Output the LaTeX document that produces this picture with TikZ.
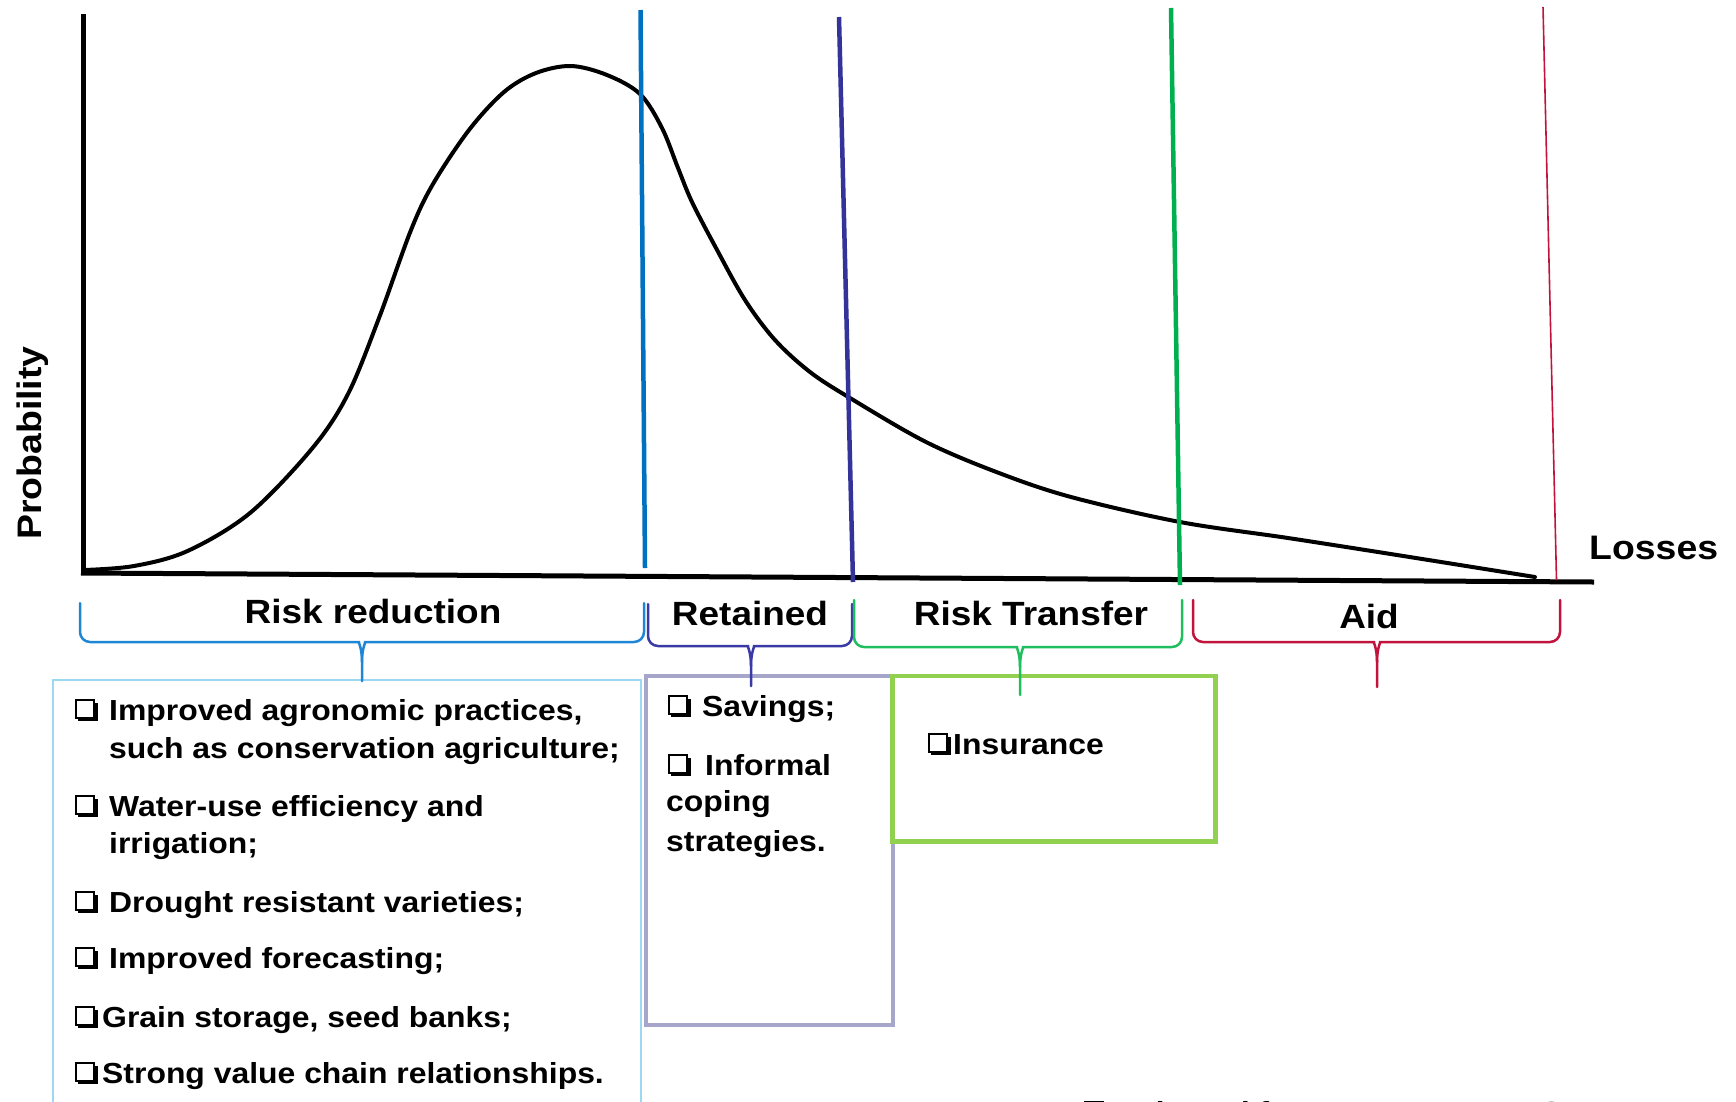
\documentclass[tikz,border=0pt]{standalone}
\usepackage{fontspec}
\setmainfont{Liberation Sans}[FakeStretch=1.1]
\definecolor{vblue}{HTML}{0070C0}
\definecolor{vpurple}{HTML}{333399}
\definecolor{vgreen}{HTML}{00B050}
\definecolor{vred}{HTML}{C0143C}
\definecolor{bblue}{HTML}{1F86D6}
\definecolor{bpurple}{HTML}{3A3AA6}
\definecolor{bgreen}{HTML}{1FBF5F}
\definecolor{boxone}{HTML}{9DD8F2}
\definecolor{boxtwo}{HTML}{A6A6CA}
\definecolor{boxthree}{HTML}{92D050}
\newcommand\mybrace[7]{%
 \draw[brc,#7,rounded corners=10] (#1,#4) -- (#1,#5) -- (#3-13,#5) [sharp corners] .. controls (#3-4,#5) and (#3,#5+5) .. (#3,#5+20) -- (#3,#6);
 \draw[brc,#7,rounded corners=10] (#2,#4) -- (#2,#5) -- (#3+13,#5) [sharp corners] .. controls (#3+4,#5) and (#3,#5+5) .. (#3,#5+20);
}
\begin{document}
\begin{tikzpicture}[x=1pt,y=-1pt,
  brc/.style={line width=2.5, line cap=round},
  body/.style={anchor=base west, inner sep=0, font=\fontsize{29}{35}\selectfont\bfseries},
  head/.style={anchor=base, inner sep=0, font=\fontsize{33.6}{40}\selectfont\bfseries},
  bul/.pic={
    \fill[black] (3,-17) rectangle (23,1);
    \filldraw[fill=white, draw=black, line width=2] (1,-20) rectangle (19,-2);
  }]
\useasboundingbox (0,0) rectangle (1736,1101);
\clip (0,0) rectangle (1736,1101);

% axes
\draw[line width=5] (83,14) -- (83,575);
\draw[line width=5] (81,573) -- (1594,582);

% curve
\draw[line width=4, line join=round, line cap=round] plot[smooth, tension=0.55] coordinates {
 (84,570) (134,566) (187.5,551) (250,513) (312.5,448) (348,394) (379,318) (411,230)
 (433,184) (469,130) (504,92) (536,73) (571,66) (607,75) (640,94) (662,128) (678,168)
 (692,202) (716,248) (745,300) (775,340) (810,372) (850,398) (926,442) (999,473)
 (1071,497) (1180,522) (1288,538) (1397,555) (1535,577)};

% vertical thresholds
\draw[line width=4.5, vblue] (640.5,10) -- (645,568);
\draw[line width=4.5, vpurple] (839,17) -- (853,582);
\draw[line width=4.5, vgreen] (1171,8) -- (1180,585);
\draw[line width=1.6, vred] (1543,7) -- (1556.5,580);

% axis labels
\node[rotate=90, anchor=base west, inner sep=0, font=\fontsize{34}{40}\selectfont\bfseries] (prob) at (41,540) {Probability};
\node[anchor=base west, inner sep=0, font=\fontsize{34}{40}\selectfont\bfseries] (loss) at (1589,559) {Losses};

% boxes
\draw[line width=2, boxone] (53,680) rectangle (640.5,1140);
\draw[line width=4, boxtwo] (645.5,676) rectangle (892.5,1025);
\draw[line width=4.5, boxthree] (892.5,676) rectangle (1215.5,841.5);

% braces
\mybrace{80}{644}{362}{603}{642}{681}{bblue}
\mybrace{648}{852}{751}{604}{646}{686}{bpurple}
\mybrace{854}{1182}{1020}{600}{647}{695}{bgreen}
\mybrace{1193}{1560}{1377}{600}{642}{687}{vred}

% headings
\node[head] (hrr) at (373,623) {Risk reduction};
\node[head] (hret) at (750,625) {Retained};
\node[head] (hrt) at (1031,625) {Risk Transfer};
\node[head] (haid) at (1369,628) {Aid};

% box 1 text
\pic at (75,720) {bul};
\node[body] (t1a) at (109,720) {Improved agronomic practices,};
\node[body] (t1b) at (109,758) {such as conservation agriculture;};
\pic at (75,816) {bul};
\node[body] (t2a) at (109,816) {Water-use efficiency and};
\node[body] (t2b) at (109,853) {irrigation;};
\pic at (75,912) {bul};
\node[body] (t3) at (109,912) {Drought resistant varieties;};
\pic at (75,968) {bul};
\node[body] (t4) at (109,968) {Improved forecasting;};
\pic at (75,1027) {bul};
\node[body] (t5) at (102,1027) {Grain storage, seed banks;};
\pic at (75,1083) {bul};
\node[body] (t6) at (102,1083) {Strong value chain relationships.};

% box 2 text
\pic at (668,716) {bul};
\node[body] (s1) at (702,716) {Savings;};
\pic at (668,775) {bul};
\node[body] (s2a) at (705,775) {Informal};
\node[body] (s2b) at (666,811) {coping};
\node[body] (s2c) at (666,851) {strategies.};

% box 3 text
\pic at (928,754) {bul};
\node[body] (ins) at (953,754) {Insurance};

% source line (cut off at the bottom edge, as in the original)
\pic at (1084,1122) {bul};
\node[body] (src) at (1122,1122) {Adapted from Hess, Ezra, USAID};
\end{tikzpicture}
\end{document}
